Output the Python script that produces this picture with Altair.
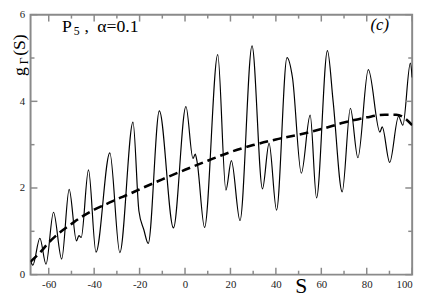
import altair as alt
import pandas as pd

# ---- data ----
solid_S = [-68.0, -67.0, -63.9, -61.2, -57.9, -54.3, -51.0, -47.8, -46.7, -45.7, -42.5, -39.2,
           -33.1, -28.7, -22.9, -20.3, -18.1, -16.2, -11.3, -5.1, 0.4, 3.5, 4.5, 5.3, 8.6,
           14.4, 18.0, 20.4, 24.2, 29.5, 34.1, 37.0, 40.3, 44.9, 47.3, 51.2, 55.1, 57.9,
           62.7, 65.2, 69.2, 72.8, 76.1, 80.7, 85.8, 86.8, 90.1, 94.0, 95.9, 99.2, 100.0]
solid_g = [0.32, 0.22, 0.84, 0.24, 1.44, 0.36, 1.97, 0.78, 0.90, 0.86, 2.42, 0.52,
           2.81, 0.51, 3.52, 1.47, 1.03, 0.72, 3.78, 1.08, 3.88, 2.68, 2.78, 2.61, 1.09,
           5.08, 1.95, 2.63, 1.25, 5.28, 1.98, 3.03, 1.49, 5.01, 4.55, 2.34, 3.68, 1.77,
           5.17, 4.00, 1.91, 3.84, 2.70, 4.73, 3.29, 3.41, 2.59, 3.65, 3.45, 4.88, 4.55]

dash_S = [-68, -64, -60, -55, -50, -45, -40, -35, -30, -25, -20, -10, 0, 10, 20, 30, 40,
          50, 60, 70, 80, 88, 93, 97, 100]
dash_g = [0.30, 0.50, 0.74, 0.98, 1.17, 1.35, 1.50, 1.62, 1.74, 1.85, 1.97, 2.20, 2.42,
          2.63, 2.83, 2.99, 3.12, 3.23, 3.36, 3.51, 3.63, 3.69, 3.69, 3.60, 3.45]

x_major = [-60, -40, -20, 0, 20, 40, 60, 80, 100]
x_minor = [-50, -30, -10, 10, 30, 50, 70, 90]
y_major = [0, 2, 4, 6]
y_minor = [1, 3, 5]

W, H = 389, 265
FRAME = "#8a8a8a"
SERIF = "Liberation Serif, Times New Roman, DejaVu Serif, serif"

xs = alt.Scale(domain=[-68, 100], nice=False, zero=False)
ys = alt.Scale(domain=[0, 6], nice=False, zero=False)

x_axis = alt.Axis(values=x_major, ticks=False, tickSize=0, domain=False, grid=False,
                  labelFont=SERIF, labelFontSize=11, labelColor="#222",
                  labelPadding=4, labelExpr="'' + datum.value", title=None)
y_axis = alt.Axis(values=y_major, ticks=False, tickSize=0, domain=False, grid=False,
                  labelFont=SERIF, labelFontSize=11, labelColor="#222",
                  labelPadding=6, title=None)

solid = alt.Chart(pd.DataFrame({"S": solid_S, "g": solid_g})).mark_line(
    color="black", strokeWidth=1.2, interpolate="monotone", clip=True
).encode(x=alt.X("S:Q", scale=xs, axis=x_axis), y=alt.Y("g:Q", scale=ys, axis=y_axis))

dashed = alt.Chart(pd.DataFrame({"S": dash_S, "g": dash_g})).mark_line(
    color="black", strokeWidth=2.6, strokeDash=[9, 5], interpolate="monotone", clip=True
).encode(x=alt.X("S:Q", scale=xs), y=alt.Y("g:Q", scale=ys))


def xticks(vals, length):
    d = pd.DataFrame({"v": vals})
    bot = alt.Chart(d).mark_rule(color=FRAME, strokeWidth=1.5).encode(
        x=alt.X("v:Q", scale=xs), y=alt.value(H), y2=alt.value(H - length))
    top = alt.Chart(d).mark_rule(color=FRAME, strokeWidth=1.5).encode(
        x=alt.X("v:Q", scale=xs), y=alt.value(0), y2=alt.value(length))
    return [bot, top]


def yticks(vals, length):
    d = pd.DataFrame({"v": vals})
    left = alt.Chart(d).mark_rule(color=FRAME, strokeWidth=1.5).encode(
        y=alt.Y("v:Q", scale=ys), x=alt.value(0), x2=alt.value(length))
    right = alt.Chart(d).mark_rule(color=FRAME, strokeWidth=1.5).encode(
        y=alt.Y("v:Q", scale=ys), x=alt.value(W), x2=alt.value(W - length))
    return [left, right]


one = pd.DataFrame({"k": [0]})


def txt(s, x, y, size, angle=0, style="normal", align="left"):
    return alt.Chart(one).mark_text(
        text=s, font=SERIF, fontSize=size, fontStyle=style, color="black",
        align=align, baseline="alphabetic", angle=angle
    ).encode(x=alt.value(x), y=alt.value(y))


texts = [
    txt("P", 32, 18, 18),
    txt("5", 44, 21, 12),
    txt(",", 55, 18, 18),
    txt("α=0.1", 68, 18, 18),
    txt("(c)", 356, 16, 17, style="italic", align="center"),
    txt("S", 276, 284, 22, align="center"),
    txt("g", -6, 58, 18, angle=270, align="center"),
    txt("Γ", -3, 47, 12, angle=270, align="center"),
    txt("(S)", -6, 31, 18, angle=270, align="center"),
]

layers = xticks(x_major, 7) + xticks(x_minor, 4) + yticks(y_major, 7) + yticks(y_minor, 4)

chart = alt.layer(solid, dashed, *layers, *texts).properties(
    width=W, height=H,
    autosize=alt.AutoSizeParams(type="none"),
    padding={"left": 23, "top": 4, "right": 9, "bottom": 21},
).configure_view(stroke=FRAME, strokeWidth=2)

chart.save("out.html", embed_options={"renderer": "svg", "actions": False})
